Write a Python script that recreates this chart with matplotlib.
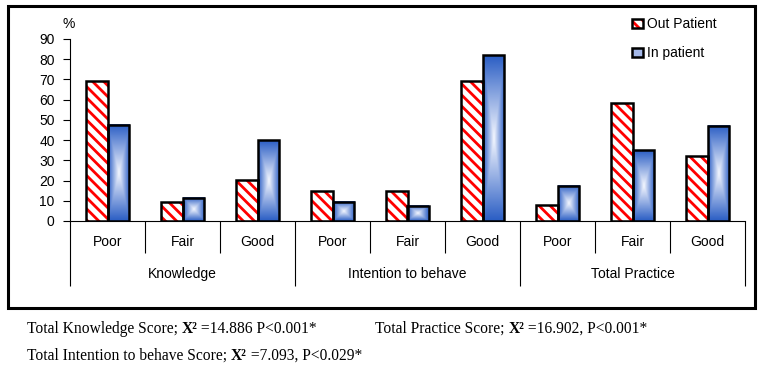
import matplotlib.pyplot as plt
import numpy as np
from matplotlib.patches import Patch, Rectangle

plt.rcParams['font.family'] = ['Liberation Sans', 'DejaVu Sans']
plt.rcParams['hatch.color'] = 'red'
plt.rcParams['hatch.linewidth'] = 2.0

# data
groups = ['Knowledge', 'Intention to behave', 'Total Practice']
levels = ['Poor', 'Fair', 'Good']
out_patient = [69, 9.5, 20.5, 15, 15, 69, 8, 58.5, 32]
in_patient = [47.5, 11.5, 40, 9.5, 7.5, 82, 17.5, 35, 47]

notes = [
    ('Total Knowledge Score; ', 'X\u00b2', ' =14.886 P<0.001*'),
    ('Total Practice Score; ', 'X\u00b2', ' =16.902, P<0.001*'),
    ('Total Intention to behave Score; ', 'X\u00b2', ' =7.093, P<0.029*'),
]

fig = plt.figure(figsize=(7.6, 3.71), dpi=100)
ax = fig.add_axes([70 / 760, 1 - 221 / 371, 675 / 760, 182 / 371])

x = np.arange(len(out_patient))
w = 0.29

# out patient: red hatched bars, outline drawn on top
ax.bar(x - w / 2, out_patient, w, color='white', edgecolor='red',
       hatch='\\\\\\', linewidth=0, zorder=2)
ax.bar(x - w / 2, out_patient, w, fill=False, edgecolor='black',
       linewidth=1.8, zorder=3)

# in patient: blue "from center" gradient
edge_rgb = np.array([0.17, 0.37, 0.77])
mid_rgb = np.array([0.96, 0.97, 1.0])
g = np.linspace(-1, 1, 80)
uu, vv = np.meshgrid(g, g)
t = np.maximum(np.abs(uu), np.abs(vv))[..., None]
grad = mid_rgb + (edge_rgb - mid_rgb) * t

blue = ax.bar(x + w / 2, in_patient, w, color='none', edgecolor='black',
              linewidth=1.8, zorder=3)
for p in blue:
    bx, by = p.get_x(), p.get_y()
    ax.imshow(grad, extent=(bx, bx + p.get_width(), by, by + p.get_height()),
              aspect='auto', interpolation='bilinear', zorder=2)

ax.set_xlim(-0.5, len(x) - 0.5)
ax.set_ylim(0, 90)
ax.set_yticks(range(0, 91, 10))
ax.set_xticks([])
ax.tick_params(axis='y', direction='out', length=5, width=0.8, pad=6,
               labelsize=10)
for s in ['top', 'right']:
    ax.spines[s].set_visible(False)
ax.spines['left'].set_linewidth(0.8)
ax.spines['bottom'].set_linewidth(0.8)

# category labels and separators under the axis
tr = ax.get_xaxis_transform()
for i in range(len(x)):
    ax.text(i, -0.117, levels[i % 3], transform=tr, ha='center', va='center',
            fontsize=10)
for k, name in enumerate(groups):
    ax.text(3 * k + 1, -0.291, name, transform=tr, ha='center', va='center',
            fontsize=10)
for b in range(len(x) + 1):
    low = -0.3555 if b % 3 == 0 else -0.1775
    ax.vlines(b - 0.5, low, 0, transform=tr, colors='black', linewidth=0.8,
              clip_on=False)

fig.text(68.5 / 760, 1 - 23.5 / 371, '%', ha='center', va='center',
         fontsize=10)

handles = [
    (Patch(facecolor='white', edgecolor='red', hatch='\\\\\\', linewidth=0),
     Patch(fill=False, edgecolor='black', linewidth=1.8)),
    Patch(facecolor='#a4b8e8', edgecolor='black', linewidth=1.8),
]
fig.legend(handles, ['Out Patient', 'In patient'], loc='upper left',
           bbox_to_anchor=(632 / 760, 1 - 17 / 371), frameon=False,
           fontsize=10, borderpad=0, borderaxespad=0,
           handlelength=0.8, handleheight=0.6, handletextpad=0.25,
           labelspacing=1.1)

# frame around the chart
fig.patches.append(Rectangle((7.5 / 760, 1 - 308.3 / 371), 747 / 760,
                             302.1 / 371, transform=fig.transFigure,
                             fill=False, edgecolor='black', linewidth=2.2))

# footnotes, pieces chained so the bold X2 sits inline
spots = [(26.7, 329), (375, 329), (26.7, 355.7)]
for (px, py), (a, b, c) in zip(spots, notes):
    t1 = fig.text(px / 760, 1 - py / 371, a, family='Liberation Serif',
                  fontsize=11.2, va='center', ha='left')
    t2 = ax.annotate(b, xy=(1, 0), xycoords=t1, va='bottom', ha='left',
                     family='Liberation Serif', fontsize=11.2,
                     fontweight='bold', annotation_clip=False)
    ax.annotate(c, xy=(1, 0), xycoords=t2, va='bottom', ha='left',
                family='Liberation Serif', fontsize=11.2,
                annotation_clip=False)

fig.savefig('out.png', dpi=100)
